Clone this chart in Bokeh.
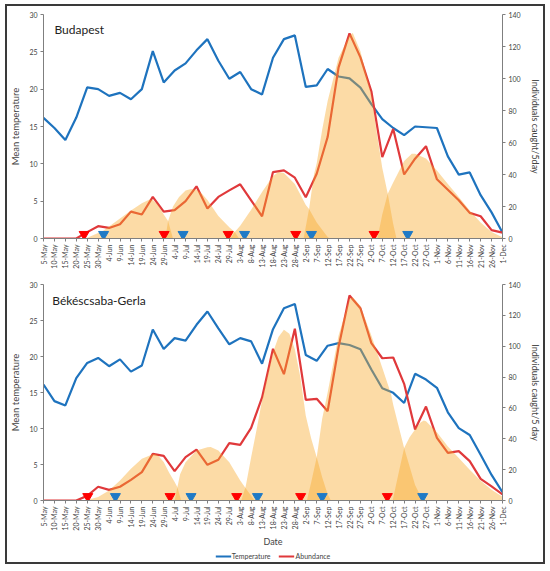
import math
from bokeh.plotting import figure
from bokeh.models import Range1d, LinearAxis, FixedTicker, Legend, LegendItem, Label
from bokeh.layouts import column
from bokeh.embed import file_html
from bokeh.resources import INLINE

dates = ["5-May", "10-May", "15-May", "20-May", "25-May", "30-May", "4-Jun", "9-Jun", "14-Jun",
         "19-Jun", "24-Jun", "29-Jun", "4-Jul", "9-Jul", "14-Jul", "19-Jul", "24-Jul", "29-Jul",
         "3-Aug", "8-Aug", "13-Aug", "18-Aug", "23-Aug", "28-Aug", "2-Sep", "7-Sep", "12-Sep",
         "17-Sep", "22-Sep", "27-Sep", "2-Oct", "7-Oct", "12-Oct", "17-Oct", "22-Oct", "27-Oct",
         "1-Nov", "6-Nov", "11-Nov", "16-Nov", "21-Nov", "26-Nov", "1-Dec"]

# ---- Budapest ----
bud_temp = [16.15, 14.8, 13.2, 16.2, 20.25, 20.0, 19.1, 19.5, 18.65, 20.0, 25.1, 20.9, 22.5,
            23.45, 25.2, 26.7, 23.8, 21.4, 22.3, 20.0, 19.3, 24.2, 26.7, 27.2, 20.3, 20.5, 22.7,
            21.7, 21.45, 20.2, 18.0, 16.0, 14.8, 13.85, 15.0, 14.9, 14.8, 11.0, 8.55, 8.85, 5.8,
            3.5, 0.8]
bud_abund = [0, 0, 0, 0, 4, 7.7, 6.6, 8.9, 16.8, 15, 26, 16.8, 17.7, 23.3, 32.6, 18.7, 26, 30.1,
             33.9, 23.9, 13.9, 41.5, 42.6, 38, 25.8, 40.5, 63.4, 107, 128.2, 113.2, 92, 50.9, 68.5,
             40, 49.9, 57.7, 37, 30.5, 23.9, 16, 13.9, 5.2, 3.7]
bud_gen_x = [
    [3.8, 4, 5, 5.5, 6, 7, 8, 9, 9.7, 10, 10.5, 11, 11.4, 11.85],
    [11.15, 11.4, 11.85, 12.4, 13, 13.5, 14, 14.5, 15, 16, 17, 17.5, 17.9],
    [17.1, 17.5, 18, 19, 20, 21, 21.5, 22, 23, 24, 24.3, 25, 26, 26.2],
    [23.8, 24.3, 24.75, 25, 25.5, 26, 27, 28, 28.3, 29, 30, 30.5, 31, 31.5, 32, 32.3],
    [30.55, 31, 31.5, 32, 33, 33.7, 34, 35, 36, 37, 38, 39, 40, 41, 42],
]
bud_gen_y = [
    [0, 0.4, 3.5, 5, 7.5, 12.5, 17.5, 22, 24.3, 24, 21, 15, 11, 0],
    [0, 11, 20, 26, 30, 31, 30.5, 28, 24, 14, 7, 4, 0],
    [0, 4, 8, 18, 29, 39, 41.5, 41, 34, 21, 18.5, 10, 1, 0],
    [0, 18.5, 40, 47, 68, 86, 113, 127, 128.5, 117, 90, 66, 44, 28, 9, 0],
    [0, 15, 28, 35, 48.5, 53, 53, 50, 42.5, 34, 26, 17.5, 10, 4, 0.8],
]
bud_red_tri = [3.72, 11.04, 16.9, 23.08, 30.25]
bud_blue_tri = [5.5, 12.77, 18.4, 24.52, 33.33]

# ---- Bekescsaba-Gerla ----
bek_temp = [16.1, 13.8, 13.2, 17.0, 19.1, 19.8, 18.65, 19.6, 17.9, 18.75, 23.75, 21.05, 22.55,
            22.2, 24.4, 26.25, 23.9, 21.7, 22.55, 22.1, 19.0, 23.8, 26.7, 27.3, 20.2, 19.4, 21.5,
            21.85, 21.6, 21.0, 18.2, 15.6, 14.95, 13.55, 17.6, 16.8, 15.65, 12.25, 10.05, 9.1,
            6.35, 3.55, 1.15]
bek_abund = [0, 0, 0, 0, 3, 8.9, 6.9, 8.9, 13.4, 18.4, 30.2, 28.9, 19, 28.1, 33, 23.1, 26.4, 37.2,
             36.1, 47.1, 66.8, 98.3, 81.9, 111.3, 65.2, 65.9, 57.9, 99.4, 132.9, 124.6, 102, 92.2,
             92.7, 75.6, 46, 60.9, 40.6, 30.9, 32, 25.5, 14, 9.1, 3.9]
bek_gen_x = [
    [3.8, 4, 5, 6, 7, 8, 9, 10, 10.2, 10.5, 11, 11.5, 12, 12.25, 12.6],
    [12.0, 12.25, 12.5, 13, 14, 15, 15.3, 16, 17, 18, 18.5, 19, 19.3],
    [18.1, 18.5, 19, 19.5, 20, 20.5, 21, 21.5, 22, 22.5, 23, 23.5, 24, 24.5, 25, 25.5, 26, 26.3],
    [24.1, 24.5, 25, 25.5, 26, 27, 28, 28.3, 29, 30, 31, 31.8, 32, 33, 34, 34.7],
    [31.95, 32.5, 33, 33.5, 34, 34.5, 34.8, 35, 36, 37, 38, 39, 40, 41, 42],
]
bek_gen_y = [
    [0, 0.3, 2.2, 6.5, 13, 20.5, 27, 30, 30.2, 29, 25, 18, 12, 8.6, 0],
    [0, 8.6, 17, 24.8, 32.4, 34.5, 34.6, 32.4, 24.8, 13, 8, 3, 0],
    [0, 9, 28, 46, 65, 81, 96, 106, 110.6, 108, 98, 80, 55, 40, 28, 15, 4, 0],
    [0, 12, 28, 53, 70, 107, 130.7, 131.8, 126, 107, 86, 69, 62, 34, 10, 0],
    [0, 18, 34, 41, 46, 50.5, 51.8, 51.3, 44.3, 35, 27.5, 20, 12.8, 7, 2.5],
]
bek_red_tri = [4.05, 11.58, 17.68, 23.53, 31.46]
bek_blue_tri = [6.58, 13.5, 19.58, 25.5, 34.7]

legend_labels = ["Temperature", "Abundance"]

FONT = "Lato"
BLUE = "#1e73be"
RED = "#e0393b"
AREA = "#f9a92a"
AXIS = "#7f7f7f"


def make_panel(title, title_x, title_y, temp, abund, gen_x, gen_y, red_tri, blue_tri,
               height, mb, mt, mr, ml, bottom=False):
    p = figure(width=536, height=height, output_backend="svg", toolbar_location=None,
               x_range=Range1d(0, 42), y_range=Range1d(0, 30),
               min_border_left=ml, min_border_right=mr, min_border_top=mt,
               min_border_bottom=mb)
    p.extra_y_ranges = {"abund": Range1d(0, 140)}
    p.outline_line_color = None
    p.grid.visible = False
    p.background_fill_color = "white"
    p.border_fill_color = "white"

    xs = list(range(len(dates)))
    p.line(xs, temp, line_color=BLUE, line_width=2.2)
    p.line(xs, abund, line_color=RED, line_width=2.2, y_range_name="abund")
    for gx, gy in zip(gen_x, gen_y):
        p.varea(x=gx, y1=[0] * len(gx), y2=gy, fill_color=AREA, fill_alpha=0.42,
                y_range_name="abund")
    p.scatter(red_tri, [2.6] * len(red_tri), marker="inverted_triangle", size=10,
              fill_color="#ff0000", line_color="#ff0000", y_range_name="abund")
    p.scatter(blue_tri, [2.6] * len(blue_tri), marker="inverted_triangle", size=10,
              fill_color="#1f7ac6", line_color="#1f7ac6", y_range_name="abund")

    # x axis
    xa = p.xaxis[0]
    xa.ticker = FixedTicker(ticks=xs)
    xa.major_label_overrides = {i: d for i, d in enumerate(dates)}
    xa.major_label_orientation = math.pi / 2
    xa.major_label_text_font_size = "7px"
    xa.major_label_text_font = FONT
    xa.major_label_standoff = 3
    xa.major_tick_out = 3
    xa.major_tick_in = 0
    xa.minor_tick_out = 0
    xa.minor_tick_in = 0
    xa.axis_line_color = AXIS
    xa.major_tick_line_color = AXIS
    if bottom:
        xa.axis_label = "Date"
        xa.axis_label_text_font = FONT
        xa.axis_label_text_font_size = "9px"
        xa.axis_label_text_font_style = "normal"
        xa.axis_label_standoff = 2

    # left axis
    ya = p.yaxis[0]
    ya.ticker = FixedTicker(ticks=[0, 5, 10, 15, 20, 25, 30])
    ya.axis_label = "Mean temperature"
    ya.axis_label_text_font = FONT
    ya.axis_label_text_font_size = "9.5px"
    ya.axis_label_text_font_style = "normal"
    ya.axis_label_standoff = 5
    ya.major_label_text_font = FONT
    ya.major_label_text_font_size = "7px"
    ya.major_label_standoff = 3
    ya.major_tick_out = 3
    ya.major_tick_in = 0
    ya.minor_tick_out = 0
    ya.minor_tick_in = 0
    ya.axis_line_color = AXIS
    ya.major_tick_line_color = AXIS

    # right axis
    ra = LinearAxis(y_range_name="abund", ticker=FixedTicker(ticks=list(range(0, 141, 20))))
    ra.axis_label = "Individuals caught/5day" if not bottom else "Individuals caught/5 day"
    ra.axis_label_text_font = FONT
    ra.axis_label_text_font_size = "9px"
    ra.axis_label_text_font_style = "normal"
    ra.axis_label_standoff = 6
    ra.major_label_text_font = FONT
    ra.major_label_text_font_size = "7px"
    ra.major_label_standoff = 3
    ra.major_tick_out = 3
    ra.major_tick_in = 0
    ra.minor_tick_out = 0
    ra.minor_tick_in = 0
    ra.axis_line_color = AXIS
    ra.major_tick_line_color = AXIS
    p.add_layout(ra, "right")

    p.add_layout(Label(x=title_x, y=title_y, text=title, text_font=FONT,
                       text_font_size="12px", text_color="#222222",
                       text_baseline="middle", text_align="left"))
    return p


p1 = make_panel("Budapest", 1.0, 28.0, bud_temp, bud_abund, bud_gen_x, bud_gen_y,
                bud_red_tri, bud_blue_tri, height=266, mb=34, mt=8, mr=33, ml=32)
p2 = make_panel("Békéscsaba-Gerla", 0.8, 27.8, bek_temp, bek_abund, bek_gen_x,
                bek_gen_y, bek_red_tri, bek_blue_tri, height=277, mb=49, mt=12,
                mr=34, ml=32, bottom=True)

# legend strip (series drawn outside its visible range; only the legend shows)
p3 = figure(width=536, height=13, output_backend="svg", toolbar_location=None,
            x_axis_type=None, y_axis_type=None, x_range=Range1d(0, 42),
            y_range=Range1d(1000, 1001), min_border=0)
p3.outline_line_color = None
p3.grid.visible = False
xs_all = list(range(len(dates)))
leg_t = p3.line(xs_all, bek_temp, line_color=BLUE, line_width=2)
leg_a = p3.line(xs_all, bek_abund, line_color=RED, line_width=2)
legend = Legend(items=[LegendItem(label=legend_labels[0], renderers=[leg_t]),
                       LegendItem(label=legend_labels[1], renderers=[leg_a])],
                orientation="horizontal", location="center",
                label_text_font=FONT, label_text_font_size="7px",
                glyph_width=16, glyph_height=8, label_standoff=1, spacing=8,
                label_height=8, padding=1, margin=0, border_line_color=None,
                background_fill_alpha=0)
p3.add_layout(legend)

layout = column(p1, p2, p3, spacing=0, margin=(4, 0, 0, 5),
                styles={"border": "2px solid #3a3a3a"})

with open("out.html", "w") as f:
    f.write(file_html(layout, INLINE))
